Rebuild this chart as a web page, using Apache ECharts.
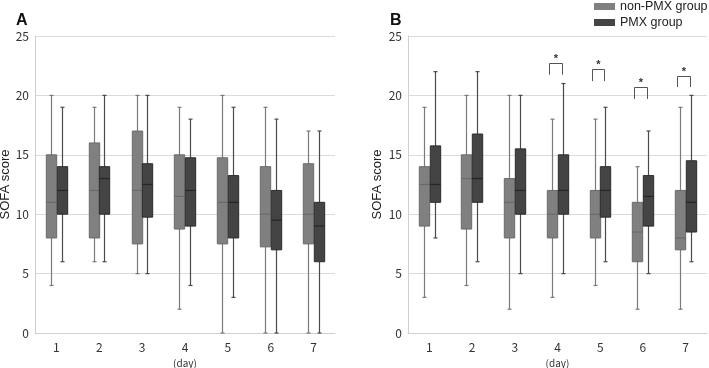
<!DOCTYPE html>
<html>
<head>
<meta charset="utf-8">
<script src="https://cdn.jsdelivr.net/npm/echarts@6/dist/echarts.min.js"></script>
<style>html,body{margin:0;padding:0;background:#fff;}#c{width:709px;height:368px;}</style>
</head>
<body>
<div id="c"></div>
<script>
// Categories (day)
const days = ['1', '2', '3', '4', '5', '6', '7'];
const yTicks = [0, 5, 10, 15, 20, 25];

// Panel A: [low, Q1, median, Q3, high]
const aNonPMX = [[4, 8, 11, 15, 20], [6, 8, 12, 16, 19], [5, 7.5, 12, 17, 20], [2, 8.75, 11.5, 15, 19], [0, 7.5, 11, 14.75, 20], [0, 7.25, 10, 14, 19], [0, 7.5, 10, 14.25, 17]];
const aPMX = [[6, 10, 12, 14, 19], [6, 10, 13, 14, 20], [5, 9.75, 12.5, 14.25, 20], [4, 9, 12, 14.75, 18], [3, 8, 11, 13.25, 19], [0, 7, 9.5, 12, 18], [0, 6, 9, 11, 17]];

// Panel B: [low, Q1, median, Q3, high]
const bNonPMX = [[3, 9, 12.5, 14, 19], [4, 8.75, 13, 15, 20], [2, 8, 11, 13, 20], [3, 8, 10, 12, 18], [4, 8, 10, 12, 18], [2, 6, 8.5, 11, 14], [2, 7, 8, 12, 19]];
const bPMX = [[8, 11, 12.5, 15.75, 22], [6, 11, 13, 16.75, 22], [5, 10, 12, 15.5, 20], [5, 10, 12, 15, 21], [6, 9.75, 12, 14, 19], [5, 9, 11.5, 13.25, 17], [6, 8.5, 11, 14.5, 20]];

// Significance markers in panel B: day index, bracket top, bracket leg end
const sigDays = [3, 4, 5, 6];
const sigTop = [22.7, 22.2, 20.7, 21.6];
const sigLeg = [21.75, 21.2, 19.7, 20.7];
const sigLabel = ['*', '*', '*', '*'];

const NON_FILL = '#808080', NON_EDGE = '#6b6b6b', NON_WHISK = '#7a7a7a';
const PMX_FILL = '#444444', PMX_EDGE = '#2c2c2c', PMX_WHISK = '#4a4a4a';

function toData(arr) {
  return arr.map((v, i) => [i].concat(v));
}

function boxRender(offset, fill, edge, whisk, medColor) {
  return function (params, api) {
    const c = api.value(0);
    const pLow = api.coord([c, api.value(1)]);
    const pQ1 = api.coord([c, api.value(2)]);
    const pMed = api.coord([c, api.value(3)]);
    const pQ3 = api.coord([c, api.value(4)]);
    const pHigh = api.coord([c, api.value(5)]);
    const x = Math.round(pLow[0] + offset) + 0.5;
    const hw = 5.2;
    const cap = 2;
    return {
      type: 'group',
      children: [
        { type: 'line', shape: { x1: x, y1: pHigh[1], x2: x, y2: pLow[1] }, style: { stroke: whisk, lineWidth: 1.2 } },
        { type: 'line', shape: { x1: x - cap, y1: pHigh[1], x2: x + cap, y2: pHigh[1] }, style: { stroke: whisk, lineWidth: 1.2 } },
        { type: 'line', shape: { x1: x - cap, y1: pLow[1], x2: x + cap, y2: pLow[1] }, style: { stroke: whisk, lineWidth: 1.2 } },
        { type: 'rect', shape: { x: x - hw, y: pQ3[1], width: hw * 2, height: pQ1[1] - pQ3[1] }, style: { fill: fill, stroke: edge, lineWidth: 1 } },
        { type: 'line', shape: { x1: x - hw, y1: pMed[1], x2: x + hw, y2: pMed[1] }, style: { stroke: medColor, lineWidth: 1.2 } }
      ]
    };
  };
}

function sigRender(params, api) {
  const c = api.value(0);
  const pTop = api.coord([c, api.value(1)]);
  const pLeg = api.coord([c, api.value(2)]);
  const x1 = Math.round(pTop[0] - 8.5) + 0.5;
  const x2 = Math.round(pTop[0] + 4) + 0.5;
  const yt = Math.round(pTop[1]) + 0.5;
  return {
    type: 'group',
    children: [
      { type: 'polyline', shape: { points: [[x1, pLeg[1]], [x1, yt], [x2, yt], [x2, pLeg[1]]] }, style: { stroke: '#555', lineWidth: 1, fill: null } },
      { type: 'text', style: { text: sigLabel[params.dataIndex], x: (x1 + x2) / 2, y: yt - 5, align: 'center', verticalAlign: 'middle', fill: '#333', font: 'bold 11px "Liberation Sans", Arial, sans-serif' } }
    ]
  };
}

const tickFont = '"Noto Sans CJK JP", "Liberation Sans", sans-serif';

function xAxisCfg(gi) {
  return {
    type: 'category', gridIndex: gi, data: days,
    name: '(day)', nameLocation: 'middle', nameGap: 24,
    nameTextStyle: { fontSize: 10, color: '#333', fontFamily: tickFont },
    axisLine: { lineStyle: { color: '#cfcfcf' } },
    axisTick: { show: false },
    axisLabel: { fontSize: 12, color: '#333', margin: 8, fontFamily: tickFont }
  };
}
function yAxisCfg(gi, gap) {
  return {
    type: 'value', gridIndex: gi, min: 0, max: 25, interval: 5,
    name: 'SOFA score', nameLocation: 'middle', nameGap: gap,
    nameTextStyle: { fontSize: 13, color: '#222', fontFamily: '"Liberation Sans", Arial, sans-serif' },
    axisLine: { show: true, lineStyle: { color: '#cfcfcf' } },
    axisTick: { show: false },
    axisLabel: { fontSize: 12, color: '#333', margin: 6, fontFamily: tickFont,
      formatter: v => (yTicks.indexOf(v) >= 0 ? String(v) : '') },
    splitLine: { lineStyle: { color: '#dadada' } }
  };
}

const chart = echarts.init(document.getElementById('c'), null, { renderer: 'canvas' });
chart.setOption({
  animation: false,
  backgroundColor: '#fff',
  title: [
    { text: 'A', left: 11, top: 8, textStyle: { fontSize: 16, fontWeight: 'bold', color: '#111', fontFamily: '"Liberation Sans", Arial, sans-serif' } },
    { text: 'B', left: 385, top: 8, textStyle: { fontSize: 16, fontWeight: 'bold', color: '#111', fontFamily: '"Liberation Sans", Arial, sans-serif' } }
  ],
  legend: {
    orient: 'vertical', left: 594, top: 0, padding: 0, itemWidth: 21, itemHeight: 7, itemGap: 3,
    icon: 'rect',
    textStyle: { fontSize: 12.5, color: '#222', fontFamily: '"Liberation Sans", Arial, sans-serif' },
    data: ['non-PMX group', 'PMX group']
  },
  grid: [
    { left: 35, right: 374, top: 36, bottom: 35, outerBoundsMode: 'none' },
    { left: 408, right: 2, top: 36, bottom: 35, outerBoundsMode: 'none' }
  ],
  xAxis: [xAxisCfg(0), xAxisCfg(1)],
  yAxis: [yAxisCfg(0, 21), yAxisCfg(1, 24)],
  series: [
    { type: 'custom', name: 'non-PMX group', xAxisIndex: 0, yAxisIndex: 0, itemStyle: { color: NON_FILL },
      renderItem: boxRender(-5.6, NON_FILL, NON_EDGE, NON_WHISK, '#6a6a6a'), encode: { x: 0, y: [1, 2, 3, 4, 5] }, data: toData(aNonPMX) },
    { type: 'custom', name: 'PMX group', xAxisIndex: 0, yAxisIndex: 0, itemStyle: { color: PMX_FILL },
      renderItem: boxRender(5.2, PMX_FILL, PMX_EDGE, PMX_WHISK, '#252525'), encode: { x: 0, y: [1, 2, 3, 4, 5] }, data: toData(aPMX) },
    { type: 'custom', name: 'non-PMX group', xAxisIndex: 1, yAxisIndex: 1, itemStyle: { color: NON_FILL },
      renderItem: boxRender(-5.6, NON_FILL, NON_EDGE, NON_WHISK, '#6a6a6a'), encode: { x: 0, y: [1, 2, 3, 4, 5] }, data: toData(bNonPMX) },
    { type: 'custom', name: 'PMX group', xAxisIndex: 1, yAxisIndex: 1, itemStyle: { color: PMX_FILL },
      renderItem: boxRender(5.2, PMX_FILL, PMX_EDGE, PMX_WHISK, '#252525'), encode: { x: 0, y: [1, 2, 3, 4, 5] }, data: toData(bPMX) },
    { type: 'custom', name: 'sig', xAxisIndex: 1, yAxisIndex: 1, silent: true,
      renderItem: sigRender, encode: { x: 0, y: [1, 2] },
      data: sigDays.map((d, i) => [d, sigTop[i], sigLeg[i]]) }
  ]
});
</script>
</body>
</html>
